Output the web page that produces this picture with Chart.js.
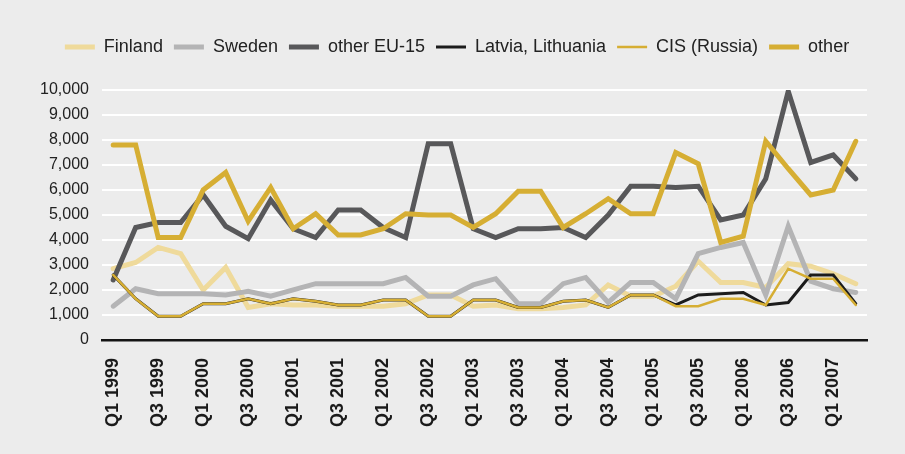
<!DOCTYPE html>
<html>
<head>
<meta charset="utf-8">
<script src="https://cdn.jsdelivr.net/npm/chart.js@4.4.1/dist/chart.umd.min.js"></script>
<style>
  html, body { margin: 0; padding: 0; background: #ececec; }
  #wrap { width: 905px; height: 454px; }
</style>
</head>
<body>
<div id="wrap"><canvas id="flows"></canvas></div>
<script>
const quarters = [
  'Q1 1999', 'Q2 1999', 'Q3 1999', 'Q4 1999',
  'Q1 2000', 'Q2 2000', 'Q3 2000', 'Q4 2000',
  'Q1 2001', 'Q2 2001', 'Q3 2001', 'Q4 2001',
  'Q1 2002', 'Q2 2002', 'Q3 2002', 'Q4 2002',
  'Q1 2003', 'Q2 2003', 'Q3 2003', 'Q4 2003',
  'Q1 2004', 'Q2 2004', 'Q3 2004', 'Q4 2004',
  'Q1 2005', 'Q2 2005', 'Q3 2005', 'Q4 2005',
  'Q1 2006', 'Q2 2006', 'Q3 2006', 'Q4 2006',
  'Q1 2007', 'Q2 2007'
];

const finland = [2850, 3100, 3700, 3450, 2000, 2900, 1300, 1450, 1400, 1400, 1350, 1350, 1350, 1450, 1800, 1800, 1350,
  1400, 1250, 1250, 1300, 1400, 2200, 1750, 1750, 2150, 3150, 2300, 2300, 2100, 3050, 2950, 2650, 2250];
const sweden = [1350, 2050, 1850, 1850, 1850, 1800, 1950, 1750, 2000, 2250, 2250, 2250, 2250, 2500, 1750, 1750, 2200,
  2450, 1450, 1450, 2250, 2500, 1500, 2300, 2300, 1650, 3450, 3700, 3900, 1800, 4550, 2350, 2050, 1900];
const otherEU15 = [2400, 4500, 4700, 4700, 5800, 4550, 4050, 5600, 4450, 4100, 5200, 5200, 4500, 4100, 7850, 7850, 4450,
  4100, 4450, 4450, 4500, 4100, 5000, 6150, 6150, 6100, 6150, 4800, 5000, 6450, 9950, 7100, 7400, 6450];
const latviaLithuania = [2600, 1650, 950, 950, 1450, 1450, 1650, 1450, 1650, 1550, 1400, 1400, 1600, 1600, 950, 950, 1600,
  1600, 1300, 1300, 1550, 1600, 1300, 1800, 1800, 1400, 1800, 1850, 1900, 1400, 1500, 2600, 2600, 1450];
const cisRussia = [2600, 1650, 950, 950, 1450, 1450, 1650, 1450, 1650, 1550, 1400, 1400, 1600, 1600, 950, 950, 1600,
  1600, 1300, 1300, 1550, 1600, 1300, 1800, 1800, 1350, 1350, 1650, 1650, 1400, 2850, 2450, 2450, 1400];
const other = [7800, 7800, 4100, 4100, 6000, 6700, 4750, 6100, 4450, 5050, 4200, 4200, 4450, 5050, 5000, 5000, 4500,
  5050, 5950, 5950, 4500, 5050, 5650, 5050, 5050, 7500, 7050, 3900, 4150, 7950, 6850, 5800, 6000, 7950];

const bg = {
  id: 'bg',
  beforeDraw(chart) {
    const c = chart.ctx;
    c.save();
    c.fillStyle = '#ececec';
    c.fillRect(0, 0, chart.width, chart.height);
    c.restore();
  }
};

// push the plot down below the legend, and nudge the legend a bit right
const legendGap = {
  id: 'legendGap',
  beforeInit(chart) {
    const fit = chart.legend.fit;
    chart.legend.fit = function () {
      fit.bind(chart.legend)();
      this.height += 24;
    };
  },
  afterLayout(chart) {
    chart.legend.left += 10;
    chart.legend.right += 10;
  }
};

function series(label, data, color, width) {
  return {
    label: label,
    data: data,
    borderColor: color,
    backgroundColor: color,
    borderWidth: width,
    borderCapStyle: 'round',
    borderJoinStyle: 'miter',
    pointRadius: 0,
    pointHoverRadius: 0,
    tension: 0,
    fill: false
  };
}

Chart.defaults.font.family = '"Liberation Sans", Arial, Helvetica, sans-serif';
Chart.defaults.color = '#222';

new Chart(document.getElementById('flows').getContext('2d'), {
  type: 'line',
  data: {
    labels: quarters,
    // first dataset is drawn on top, legend is reversed back
    datasets: [
      series('other', other, '#d6ae33', 5),
      series('CIS (Russia)', cisRussia, '#d6ae33', 2.5),
      series('Latvia, Lithuania', latviaLithuania, '#1c1c1c', 3),
      series('other EU-15', otherEU15, '#58585a', 5),
      series('Sweden', sweden, '#b4b4b5', 5),
      series('Finland', finland, '#efda9b', 5)
    ]
  },
  options: {
    responsive: true,
    maintainAspectRatio: false,
    animation: false,
    layout: {
      padding: { top: 27, left: 27, right: 38, bottom: 17 }
    },
    plugins: {
      tooltip: { enabled: false },
      legend: {
        display: true,
        position: 'top',
        align: 'center',
        reverse: true,
        labels: {
          usePointStyle: true,
          pointStyle: 'line',
          pointStyleWidth: 30,
          padding: 11,
          color: '#222',
          font: { size: 18 }
        }
      }
    },
    scales: {
      x: {
        offset: true,
        grid: { display: false },
        border: { display: true, color: '#141414', width: 2.5 },
        ticks: {
          autoSkip: false,
          maxRotation: 90,
          minRotation: 90,
          padding: 10,
          color: '#1a1a1a',
          font: { size: 18, weight: 'bold' },
          callback: function (value, index) {
            return index % 2 === 0 ? this.getLabelForValue(value) : '';
          }
        }
      },
      y: {
        min: 0,
        max: 10000,
        border: { display: false },
        grid: {
          drawTicks: false,
          lineWidth: 2,
          color: (c) => c.tick && c.tick.value === 0 ? 'rgba(0,0,0,0)' : '#ffffff'
        },
        ticks: {
          stepSize: 1000,
          padding: 13,
          color: '#222',
          font: { size: 16 },
          callback: (v) => v.toLocaleString('en-US')
        }
      }
    }
  },
  plugins: [bg, legendGap]
});
</script>
</body>
</html>
